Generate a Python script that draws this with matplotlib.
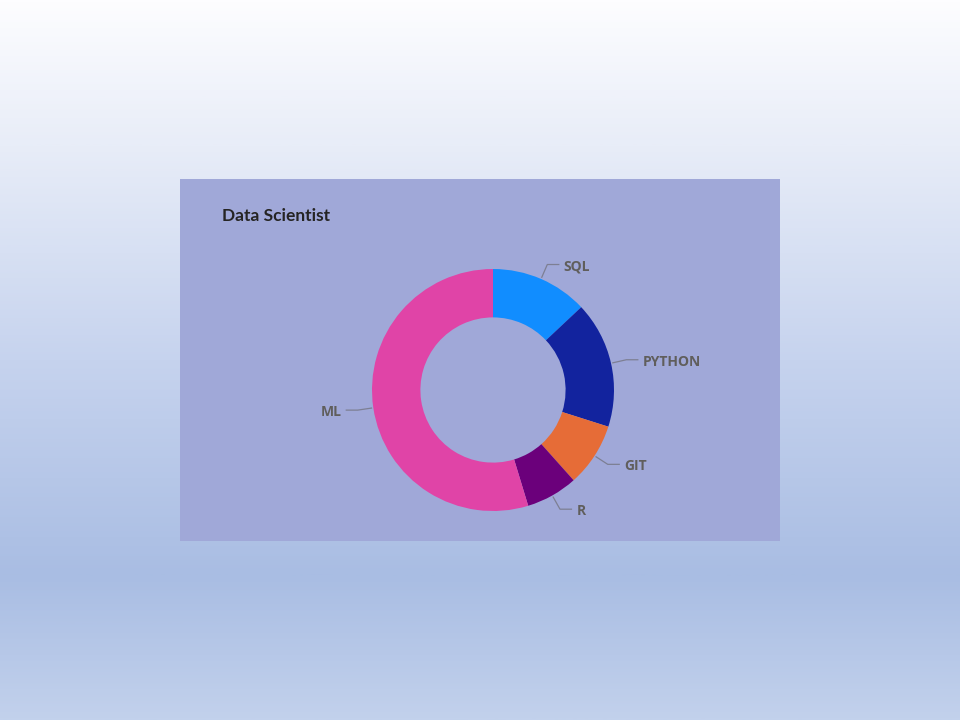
import numpy as np
import matplotlib
matplotlib.use("Agg")
import matplotlib.pyplot as plt
from matplotlib.colors import LinearSegmentedColormap
from matplotlib.patches import Rectangle

# ---- data ----
title = "Data Scientist"
categories = ["SQL", "PYTHON", "GIT", "R", "ML"]
values = [13.0, 16.9, 8.5, 6.9, 54.7]
colors = ["#118dff", "#12239e", "#e66c37", "#6b007b", "#e044a7"]

W, H = 960, 720
fig = plt.figure(figsize=(W / 100, H / 100), dpi=100)

# background gradient
bg = fig.add_axes([0, 0, 1, 1])
bg.set_axis_off()
cmap = LinearSegmentedColormap.from_list(
    "bg",
    [(0.0, "#fdfdff"), (0.2, "#e8edf8"), (0.5, "#c6d3ee"),
     (0.8, "#a9bde3"), (1.0, "#c2d1ec")])
grad = np.linspace(0, 1, 512).reshape(-1, 1)
bg.imshow(grad, aspect="auto", cmap=cmap, extent=[0, 1, 0, 1], origin="upper")
bg.set_xlim(0, 1)
bg.set_ylim(0, 1)

# panel
bg.add_patch(Rectangle((180 / W, 1 - 541 / H), 600 / W, 362 / H,
                       facecolor="#a0a8d8", edgecolor="none", zorder=2))

bg.text(222 / W, 1 - 216 / H, title, fontsize=12.5, fontweight="bold",
        family="Lato", color="#252423", va="center", ha="left", zorder=3)

# donut
R = 121.0
cx, cy = 493, 390
span = 3.2
ax = fig.add_axes([(cx - span / 2 * R) / W, (H - cy - span / 2 * R) / H,
                   span * R / W, span * R / H])
ax.set_axis_off()
wedges, _ = ax.pie(values, colors=colors, startangle=90, counterclock=False,
                   radius=1.0, wedgeprops=dict(width=0.4, edgecolor="none"))
ax.set_xlim(-span / 2, span / 2)
ax.set_ylim(-span / 2, span / 2)
ax.set_aspect("equal")

for w, lab in zip(wedges, categories):
    ang = np.deg2rad((w.theta1 + w.theta2) / 2)
    x0, y0 = np.cos(ang) * 1.01, np.sin(ang) * 1.01
    x1, y1 = np.cos(ang) * 1.13, np.sin(ang) * 1.13
    sgn = 1 if x1 >= 0 else -1
    x2 = x1 + sgn * 0.10
    ax.plot([x0, x1, x2], [y0, y1, y1], color="#7d7f93", lw=0.9,
            solid_capstyle="butt", clip_on=False)
    ax.annotate(lab, (x2, y1), xytext=(sgn * 3, -1.5),
                textcoords="offset points", fontsize=10, fontweight="bold",
                family="Open Sans", color="#605e5c",
                ha="left" if sgn > 0 else "right", va="center",
                annotation_clip=False)

fig.savefig("out.png", dpi=100)
